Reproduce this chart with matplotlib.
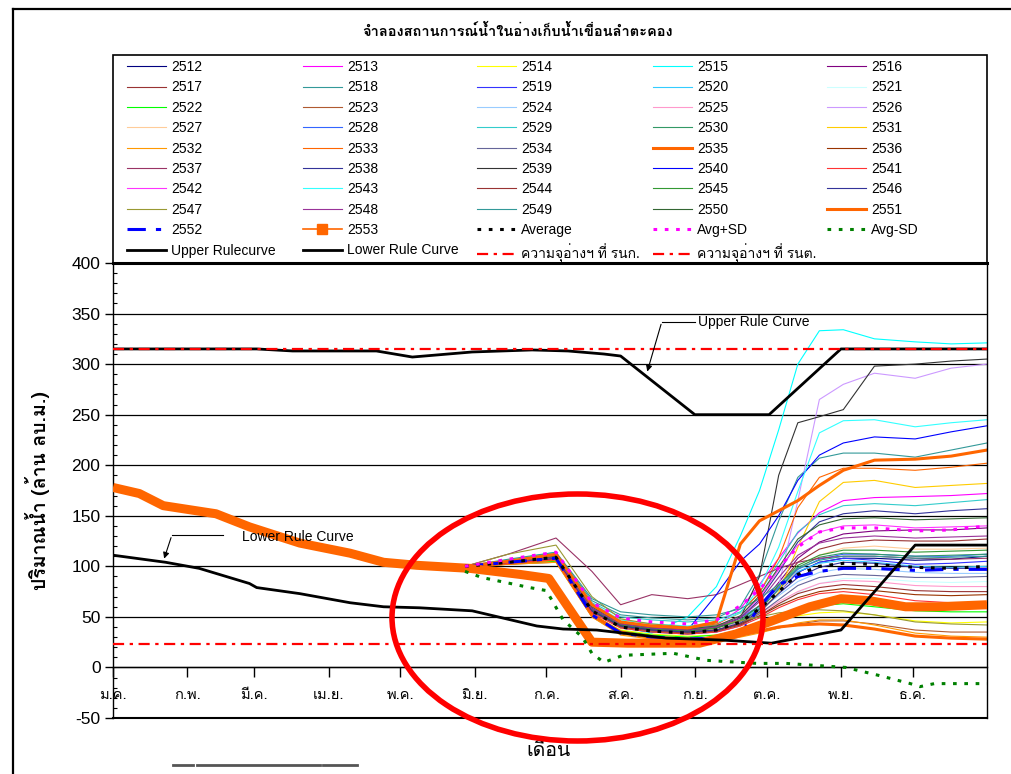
import matplotlib
matplotlib.use("Agg")
import matplotlib.pyplot as plt
import matplotlib.font_manager as fm
from matplotlib.ft2font import FT2Font
from matplotlib.lines import Line2D
from matplotlib.patches import Ellipse, Rectangle
from matplotlib.ticker import MultipleLocator

# ---------------------------------------------------------------- fonts
thai_family = None
_cands = []
for f in fm.fontManager.ttflist:
    try:
        cm = FT2Font(f.fname).get_charmap()
    except Exception:
        continue
    if 0x0E01 in cm and 0x0E49 in cm and 0x0E33 in cm:
        _cands.append(f.name)
for pref in ["Tahoma", "Loma", "Garuda", "Noto Sans Thai", "Sarabun", "Norasi"]:
    if pref in _cands:
        thai_family = pref
        break
if thai_family is None and _cands:
    thai_family = _cands[0]
LATIN = ["Liberation Sans"] + ([thai_family] if thai_family else []) + ["DejaVu Sans"]
THAI = ([thai_family] if thai_family else []) + ["Liberation Sans", "DejaVu Sans"]
plt.rcParams["font.family"] = LATIN
plt.rcParams["axes.unicode_minus"] = False

# ---------------------------------------------------------------- data
title = "จำลองสถานการณ์น้ำในอ่างเก็บน้ำเขื่อนลำตะคอง"
ylabel = "ปริมาณน้ำ (ล้าน ลบ.ม.)"
xlabel = "เดือน"
month_days = [0, 31, 59, 90, 120, 151, 181, 212, 243, 273, 304, 334]
month_labels = ["ม.ค.", "ก.พ.", "มี.ค.", "เม.ย.", "พ.ค.", "มิ.ย.", "ก.ค.",
                "ส.ค.", "ก.ย.", "ต.ค.", "พ.ย.", "ธ.ค."]

# day-of-year grid of the simulated historical-inflow scenarios
days_hist = [147, 165, 185, 200, 212, 225, 240, 252, 262, 270, 278, 286, 295, 305, 318, 335, 350, 365]

s2512 = [100, 104, 108, 56, 40, 37, 35, 37, 44, 58, 78, 94, 104, 108, 108, 106, 107, 110]
s2513 = [100, 105, 112, 60, 44, 40, 38, 42, 58, 82, 108, 133, 153, 165, 168, 169, 170, 172]
s2514 = [100, 103, 106, 52, 37, 33, 31, 32, 35, 41, 47, 51, 54, 55, 52, 46, 44, 45]
s2515 = [100, 106, 114, 60, 40, 34, 50, 80, 130, 175, 235, 300, 333, 334, 325, 322, 320, 321]
s2516 = [100, 104, 110, 58, 43, 39, 37, 39, 47, 61, 84, 108, 124, 132, 135, 136, 136, 138]
s2517 = [100, 104, 109, 57, 41, 37, 35, 37, 45, 59, 81, 104, 117, 123, 126, 125, 125, 127]
s2518 = [100, 106, 113, 66, 52, 49, 47, 49, 60, 92, 145, 188, 207, 212, 212, 208, 215, 222]
s2519 = [100, 103, 107, 55, 39, 35, 33, 35, 41, 54, 74, 94, 104, 108, 106, 102, 103, 105]
s2520 = [100, 104, 110, 59, 43, 39, 37, 39, 47, 59, 79, 95, 103, 106, 104, 100, 99, 100]
s2521 = [100, 103, 106, 54, 39, 36, 34, 36, 41, 49, 61, 74, 83, 88, 88, 85, 84, 85]
s2522 = [100, 102, 105, 52, 36, 32, 30, 32, 37, 44, 51, 57, 61, 63, 60, 56, 55, 55]
s2523 = [100, 102, 104, 50, 33, 29, 27, 28, 31, 35, 39, 43, 46, 46, 43, 37, 35, 35]
s2524 = [100, 105, 111, 60, 45, 41, 39, 41, 47, 57, 71, 85, 94, 98, 97, 94, 93, 93]
s2525 = [100, 104, 108, 56, 41, 37, 35, 37, 43, 53, 65, 75, 83, 86, 85, 81, 80, 80]
s2526 = [100, 104, 110, 58, 43, 39, 37, 39, 45, 54, 80, 165, 265, 280, 291, 286, 296, 300]
s2527 = [100, 104, 109, 57, 42, 38, 36, 38, 44, 55, 74, 97, 111, 118, 120, 117, 117, 118]
s2528 = [100, 105, 110, 60, 44, 40, 38, 41, 49, 61, 79, 97, 107, 112, 112, 110, 110, 112]
s2529 = [100, 106, 112, 64, 50, 47, 45, 47, 55, 74, 104, 134, 151, 160, 162, 160, 163, 166]
s2530 = [100, 104, 109, 57, 42, 39, 37, 39, 46, 57, 77, 99, 109, 113, 112, 110, 111, 112]
s2531 = [100, 103, 107, 55, 40, 36, 34, 36, 43, 54, 74, 119, 164, 183, 185, 178, 180, 182]
s2532 = [100, 102, 104, 50, 32, 28, 26, 27, 30, 34, 39, 44, 47, 47, 42, 34, 31, 30]
s2533 = [100, 105, 112, 62, 45, 41, 39, 43, 54, 74, 108, 158, 188, 197, 197, 195, 198, 202]
s2534 = [100, 103, 107, 55, 41, 37, 35, 37, 43, 53, 67, 81, 89, 92, 91, 89, 89, 90]
s2535 = [100, 103, 107, 52, 35, 30, 28, 29, 32, 36, 40, 42, 43, 42, 38, 31, 29, 28]
s2536 = [100, 104, 108, 56, 41, 37, 35, 37, 43, 51, 61, 69, 75, 78, 76, 72, 71, 72]
s2537 = [100, 112, 128, 95, 62, 72, 68, 72, 82, 90, 98, 104, 108, 110, 110, 108, 107, 108]
s2538 = [100, 104, 109, 58, 43, 39, 37, 40, 49, 67, 94, 124, 144, 152, 155, 152, 155, 157]
s2539 = [100, 104, 110, 58, 42, 38, 36, 39, 49, 90, 190, 242, 248, 255, 298, 300, 303, 305]
s2540 = [100, 105, 111, 60, 44, 39, 37, 72, 105, 122, 150, 185, 210, 222, 228, 226, 233, 239]
s2541 = [100, 103, 107, 54, 39, 35, 33, 35, 41, 49, 59, 67, 73, 75, 72, 66, 64, 64]
s2542 = [100, 105, 110, 60, 44, 40, 38, 41, 51, 69, 97, 121, 134, 140, 141, 138, 139, 140]
s2543 = [100, 106, 113, 63, 47, 43, 41, 44, 54, 79, 119, 174, 232, 244, 245, 238, 242, 245]
s2544 = [100, 104, 108, 56, 40, 36, 34, 36, 42, 51, 63, 73, 79, 82, 80, 76, 75, 75]
s2545 = [100, 104, 109, 57, 42, 38, 36, 39, 47, 61, 81, 101, 111, 116, 116, 114, 115, 116]
s2546 = [100, 104, 108, 56, 41, 37, 35, 37, 44, 55, 73, 89, 99, 104, 103, 99, 98, 98]
s2547 = [100, 112, 121, 70, 48, 43, 40, 42, 46, 50, 54, 56, 57, 56, 52, 45, 43, 42]
s2548 = [100, 104, 109, 58, 43, 39, 37, 40, 49, 65, 89, 111, 123, 128, 130, 128, 129, 130]
s2549 = [100, 107, 114, 68, 55, 52, 50, 52, 58, 68, 82, 98, 106, 110, 110, 108, 109, 110]
s2550 = [100, 105, 110, 60, 44, 40, 38, 41, 51, 71, 99, 127, 141, 147, 148, 146, 147, 148]
s2551 = [100, 105, 112, 62, 45, 41, 39, 45, 122, 145, 155, 165, 180, 195, 205, 206, 209, 215]
s2552 = [100, 104, 108, 52, 34, 30, 28, 29, 33, 60, 82, 90, 95, 98, 98, 96, 97, 97]
avg = [100, 104, 109, 56, 40, 36, 34, 37, 45, 58, 75, 92, 100, 103, 102, 99, 98, 100]
avg_plus_sd = [100, 107, 114, 64, 49, 45, 43, 47, 61, 77, 99, 119, 134, 138, 138, 135, 136, 140]

days_minus_sd = [147, 154, 174, 181, 188, 196, 200, 205, 213, 234, 248, 269, 281, 306, 320, 333, 337, 343, 365]
avg_minus_sd = [95, 89, 79, 76, 47, 30, 14, 5, 12, 14, 7, 4, 4, 0, -8, -16, -19, -16, -16]

days_2553 = [0, 11, 21, 43, 57, 78, 99, 113, 127, 149, 170, 182, 200, 215, 245, 260, 274, 291, 304, 316, 331, 344, 365]
s2553 = [178, 172, 160, 152, 139, 123, 113, 104, 101, 98, 92, 88, 25, 24, 24, 33, 45, 60, 68, 66, 60, 60, 62]

days_upper = [0, 60, 75, 110, 125, 150, 175, 190, 205, 212, 243, 274, 304, 365]
upper_rule = [315, 315, 313, 313, 307, 312, 314, 313, 310, 308, 250, 250, 315, 315]
days_lower = [0, 22, 36, 57, 60, 78, 99, 113, 128, 150, 177, 188, 202, 213, 231, 255, 275, 304, 335, 365]
lower_rule = [111, 104, 98, 83, 79, 73, 64, 60, 59, 56, 41, 38, 37, 34, 29, 27, 24, 37, 121, 121]

cap_max = 315   # ความจุอ่างฯ ที่ รนก.
cap_min = 23    # ความจุอ่างฯ ที่ รนต.

hist_years = list(range(2512, 2552))
hist_series = [s2512, s2513, s2514, s2515, s2516, s2517, s2518, s2519, s2520, s2521,
               s2522, s2523, s2524, s2525, s2526, s2527, s2528, s2529, s2530, s2531,
               s2532, s2533, s2534, s2535, s2536, s2537, s2538, s2539, s2540, s2541,
               s2542, s2543, s2544, s2545, s2546, s2547, s2548, s2549, s2550, s2551]
hist_colors = ["#000080", "#FF00FF", "#FFFF00", "#00FFFF", "#800080", "#993333", "#339999", "#3333FF",
               "#33CCFF", "#CCFFFF", "#00FF00", "#B05A30", "#99CCFF", "#FF99CC", "#CC99FF", "#FFCC99",
               "#3366FF", "#33CCCC", "#339966", "#FFCC00", "#FF9900", "#FF6600", "#666699", "#FF6600",
               "#993300", "#993366", "#333399", "#333333", "#0000FF", "#FF3333", "#FF33FF", "#33FFFF",
               "#993333", "#339933", "#333399", "#999933", "#993399", "#339999", "#336633", "#FF6600"]

# ---------------------------------------------------------------- figure
W, H = 1011, 774
fig = plt.figure(figsize=(W / 100, H / 100), dpi=100)
fig.patch.set_facecolor("white")
ax = fig.add_axes([113 / W, 1 - 718 / H, (987 - 113) / W, (718 - 263) / H])
ax.set_xlim(0, 365)
ax.set_ylim(-50, 400)

handles = []
labels = []
for yr, vals, col in zip(hist_years, hist_series, hist_colors):
    lw = 2.2 if yr in (2535, 2551) else 0.8
    ln, = ax.plot(days_hist, vals, color=col, lw=lw, zorder=2)
    handles.append(ln)
    labels.append(str(yr))

ln52, = ax.plot(days_hist, s2552, color="#0000FF", lw=2.2, ls=(0, (6, 3.3, 1.7, 3.3)), zorder=3)
handles.append(ln52); labels.append("2552")
ax.plot(days_2553, s2553, color="#FF6600", lw=6.5, solid_capstyle="butt", zorder=4)
handles.append(Line2D([], [], color="#FF6600", lw=1.2, marker="s", markersize=7))
labels.append("2553")
lavg, = ax.plot(days_hist, avg, color="black", lw=2.2, ls=(0, (1.2, 2.5)), zorder=5)
handles.append(lavg); labels.append("Average")
lps, = ax.plot(days_hist, avg_plus_sd, color="#FF00FF", lw=2.2, ls=(0, (1.2, 2.5)), zorder=5)
handles.append(lps); labels.append("Avg+SD")
lms, = ax.plot(days_minus_sd, avg_minus_sd, color="#008000", lw=2.2, ls=(0, (1.2, 2.5)), zorder=5)
handles.append(lms); labels.append("Avg-SD")
lup, = ax.plot(days_upper, upper_rule, color="black", lw=2.0, zorder=6)
handles.append(lup); labels.append("Upper Rulecurve")
llo, = ax.plot(days_lower, lower_rule, color="black", lw=2.0, zorder=6)
handles.append(llo); labels.append("Lower Rule Curve")
lc1 = ax.axhline(cap_max, color="red", lw=1.6, ls=(0, (5, 2.5, 1.5, 2.5)), zorder=7)
handles.append(lc1); labels.append("ความจุอ่างฯ ที่ รนก.")
lc2 = ax.axhline(cap_min, color="red", lw=1.6, ls=(0, (5, 2.5, 1.5, 2.5)), zorder=7)
handles.append(lc2); labels.append("ความจุอ่างฯ ที่ รนต.")

# ---------------------------------------------------------------- axes styling
ax.yaxis.set_major_locator(MultipleLocator(50))
ax.yaxis.set_minor_locator(MultipleLocator(10))
ax.yaxis.grid(True, which="major", color="black", lw=0.9, zorder=1)
ax.set_axisbelow(True)
ax.tick_params(axis="y", which="major", direction="out", length=6, width=1,
               labelsize=12.5, pad=3)
ax.tick_params(axis="y", which="minor", direction="in", length=3, width=0.8)
ax.spines["bottom"].set_position(("data", 0))
ax.spines["bottom"].set_linewidth(1)
ax.spines["top"].set_linewidth(2.2)
ax.spines["left"].set_linewidth(1)
ax.spines["right"].set_linewidth(1)
ax.axhline(-50, color="black", lw=1.5, clip_on=False, zorder=8)
ax.set_xticks(month_days)
ax.set_xticklabels(month_labels, family=THAI, fontsize=10.5)
ax.tick_params(axis="x", direction="out", length=7, width=1, pad=8)

# annotations
ax.plot([243, 229.2], [342, 342], color="black", lw=0.8, zorder=9)
ax.annotate("", xy=(222.8, 290), xytext=(229.2, 342),
            arrowprops=dict(arrowstyle="-|>", color="black", lw=0.8, mutation_scale=9), zorder=9)
ax.text(244.5, 342, "Upper Rule Curve", fontsize=10, va="center", ha="left", zorder=9)
ax.plot([46, 24.6], [131, 131], color="black", lw=0.8, zorder=9)
ax.annotate("", xy=(21, 105), xytext=(24.6, 131),
            arrowprops=dict(arrowstyle="-|>", color="black", lw=0.8, mutation_scale=9), zorder=9)
ax.text(54, 129, "Lower Rule Curve", fontsize=10, va="center", ha="left", zorder=9)

# ---------------------------------------------------------------- legend: 5 fixed columns, row-major
ncol = 5
col_x = [127, 303, 477, 653, 827]
for c in range(ncol):
    idx = [5 * r + c for r in range(10) if 5 * r + c < len(handles)]
    fig.legend([handles[i] for i in idx], [labels[i] for i in idx],
               ncol=1, loc="upper left",
               bbox_to_anchor=(col_x[c] / W, 1 - 60 / H),
               borderaxespad=0, borderpad=0, frameon=False, fontsize=10,
               handlelength=2.8, handletextpad=0.4, labelspacing=0.46)
fig.add_artist(Rectangle((113 / W, 1 - 263 / H), (987 - 113) / W, (263 - 55) / H,
                         transform=fig.transFigure, fill=False, edgecolor="black", lw=1.2))

# ---------------------------------------------------------------- figure texts / decorations
fig.text(518 / W, 1 - 31 / H, title, ha="center", va="center", fontsize=10.5,
         fontweight="bold", family=THAI)
fig.text(38 / W, 1 - 491 / H, ylabel, ha="center", va="center", rotation=90,
         fontsize=14, fontweight="bold", family=THAI)
fig.text(549 / W, 1 - 751 / H, xlabel, ha="center", va="center", fontsize=14, family=THAI)

fig.add_artist(Line2D([13 / W, 13 / W], [0, 1 - 9 / H], transform=fig.transFigure,
                      color="black", lw=1.6))
fig.add_artist(Line2D([13 / W, 1.0], [1 - 9 / H, 1 - 9 / H], transform=fig.transFigure,
                      color="black", lw=1.6))
for x0, x1 in [(173, 193), (197, 320), (323, 357)]:
    fig.add_artist(Line2D([x0 / W, x1 / W], [1 - 765 / H, 1 - 765 / H],
                          transform=fig.transFigure, color="#555555", lw=2))

fig.add_artist(Ellipse((577.5 / W, 1 - 617.5 / H), 371 / W, 247 / H,
                       transform=fig.transFigure, fill=False, edgecolor="red", lw=4, zorder=20))

fig.savefig("out.png", dpi=100, facecolor="white")
